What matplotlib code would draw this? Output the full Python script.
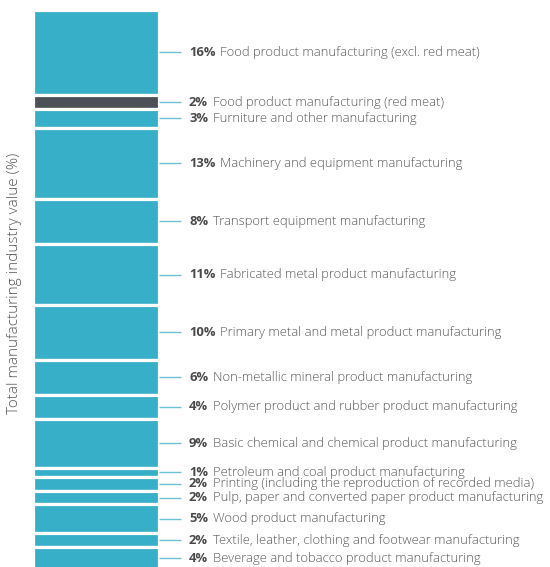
import numpy as np
import matplotlib
matplotlib.use("Agg")
import matplotlib.pyplot as plt

# segments from top to bottom
categories = [
    "Food product manufacturing (excl. red meat)",
    "Food product manufacturing (red meat)",
    "Furniture and other manufacturing",
    "Machinery and equipment manufacturing",
    "Transport equipment manufacturing",
    "Fabricated metal product manufacturing",
    "Primary metal and metal product manufacturing",
    "Non-metallic mineral product manufacturing",
    "Polymer product and rubber product manufacturing",
    "Basic chemical and chemical product manufacturing",
    "Petroleum and coal product manufacturing",
    "Printing (including the reproduction of recorded media)",
    "Pulp, paper and converted paper product manufacturing",
    "Wood product manufacturing",
    "Textile, leather, clothing and footwear manufacturing",
    "Beverage and tobacco product manufacturing",
]
values = [15.1, 2.4, 3.3, 12.5, 8.0, 10.7, 9.6, 6.2, 4.2, 8.7, 1.5, 2.5, 2.4, 5.1, 2.4, 4.0]
pct_labels = ["16%", "2%", "3%", "13%", "8%", "11%", "10%", "6%", "4%", "9%",
              "1%", "2%", "2%", "5%", "2%", "4%"]
highlight = "Food product manufacturing (red meat)"

BLUE = "#38afc8"
DARK = "#4d5157"
LINE = "#6cc3d5"

plt.rcParams["font.family"] = ["Open Sans", "DejaVu Sans"]

fig = plt.figure(figsize=(5.5, 5.67), dpi=100)
ax = fig.add_axes([33 / 550, 0, 517 / 550, 1 - 9.5 / 567])

bottoms = np.concatenate([[0], np.cumsum(values)[:-1]])
colors = [DARK if c == highlight else BLUE for c in categories]
ax.bar(0, values, bottom=bottoms, width=1, align="edge", color=colors,
       edgecolor="white", linewidth=2.3)

ax.set_xlim(0, 517 / 126)
ax.set_ylim(98.1, 0)
ax.axis("off")

for v, b, pct, cat in zip(values, bottoms, pct_labels, categories):
    yc = b + v / 2
    ax.plot([1.0, 148 / 126], [yc, yc], color=LINE, lw=1, solid_capstyle="butt")
    t = ax.text(156 / 126, yc, pct, fontsize=9.4, fontweight="bold",
                color="#4a4a4a", va="center", ha="left")
    ax.annotate(cat, xy=(1, 0.5), xycoords=t, xytext=(3.5, 0),
                textcoords="offset points", fontsize=9.4, fontweight="light",
                color="#585858", va="center", ha="left")

fig.text(15 / 550, 1 - 283 / 567, "Total manufacturing industry value (%)",
         rotation=90, va="center", ha="center", fontsize=11,
         fontweight="light", color="#585858")

fig.savefig("out.png", dpi=100)
